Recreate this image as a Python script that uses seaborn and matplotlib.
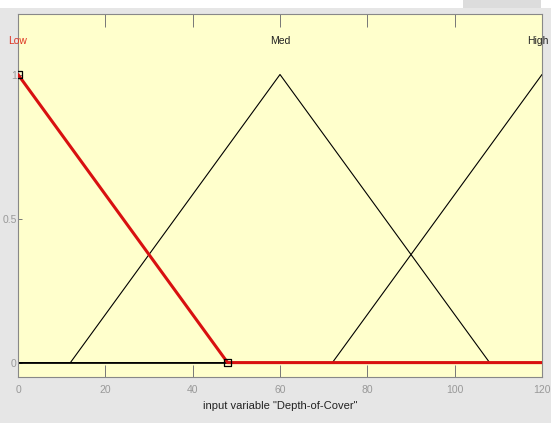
import matplotlib
matplotlib.use("Agg")
import matplotlib.pyplot as plt
from matplotlib.patches import Rectangle
import seaborn as sns
import pandas as pd

# Membership functions of input variable "Depth-of-Cover"
low_x = [0, 48, 120]
low_y = [1, 0, 0]
med_x = [0, 12, 60, 108, 120]
med_y = [0, 0, 1, 0, 0]
high_x = [0, 72, 120]
high_y = [0, 0, 1]
mf_names = ["Low", "Med", "High"]
mf_peaks = [0, 60, 120]
x_ticks = [0, 20, 40, 60, 80, 100, 120]
y_ticks = [0, 0.5, 1]
y_tick_labels = ["0", "0.5", "1"]

sns.set_theme(style="white")
plt.rcParams["font.family"] = ["Liberation Sans Narrow", "Liberation Sans", "DejaVu Sans"]

fig = plt.figure(figsize=(5.51, 4.23), dpi=100)
fig.patch.set_facecolor("#e6e6e6")
fig.patches.append(Rectangle((0, 1 - 8 / 423), 1, 8 / 423, transform=fig.transFigure,
                             facecolor="white", edgecolor="none", zorder=0))
fig.patches.append(Rectangle((463 / 551, 1 - 8 / 423), 78 / 551, 8 / 423, transform=fig.transFigure,
                             facecolor="#dcdcdc", edgecolor="none", zorder=0))

ax = fig.add_axes([18 / 551, 1 - 377 / 423, 524 / 551, 363 / 423])
ax.set_facecolor("#ffffcc")

# baseline
ax.axhline(0, color="black", lw=1.2, zorder=1)

df_med = pd.DataFrame({"x": med_x, "y": med_y})
df_high = pd.DataFrame({"x": high_x, "y": high_y})
df_low = pd.DataFrame({"x": low_x, "y": low_y})
sns.lineplot(data=df_med, x="x", y="y", sort=False, color="black", lw=0.8, ax=ax, zorder=2)
sns.lineplot(data=df_high, x="x", y="y", sort=False, color="black", lw=0.8, ax=ax, zorder=2)
sns.lineplot(data=df_low, x="x", y="y", sort=False, color="#d81010", lw=2.2, ax=ax, zorder=3)
# selected MF square markers
sns.scatterplot(x=low_x[:2], y=low_y[:2], marker="s", s=30, facecolor="none",
                edgecolor="black", linewidth=0.9, ax=ax, zorder=4)

for name, px in zip(mf_names, mf_peaks):
    ha = "center"
    if name == "High":
        ha = "right"
        px = px + 1.5
    ax.text(px, 1.115, name, ha=ha, va="center", fontsize=7.5,
            color="#dd3322" if name == "Low" else "#222222", clip_on=False)

ax.set_xlim(0, 120)
ax.set_ylim(-0.05, 1.21)
ax.set_xticks(x_ticks)
ax.set_xticklabels([str(t) for t in x_ticks])
ax.set_yticks(y_ticks)
ax.set_yticklabels(y_tick_labels)
ax.tick_params(axis="x", direction="in", length=9, width=0.7, color="#777777",
               top=True, bottom=True, labelsize=7.5, labelcolor="#999999", pad=6)
ax.tick_params(axis="y", direction="in", length=3, width=0.7, color="#777777",
               left=True, labelsize=7.5, labelcolor="#999999", pad=1)
for s in ax.spines.values():
    s.set_color("#888888")
    s.set_linewidth(0.8)

ax.set_xlabel('input variable "Depth-of-Cover"', fontsize=8, color="#222222", labelpad=4)
ax.set_ylabel("")

fig.savefig("out.png", dpi=100, facecolor=fig.get_facecolor())
